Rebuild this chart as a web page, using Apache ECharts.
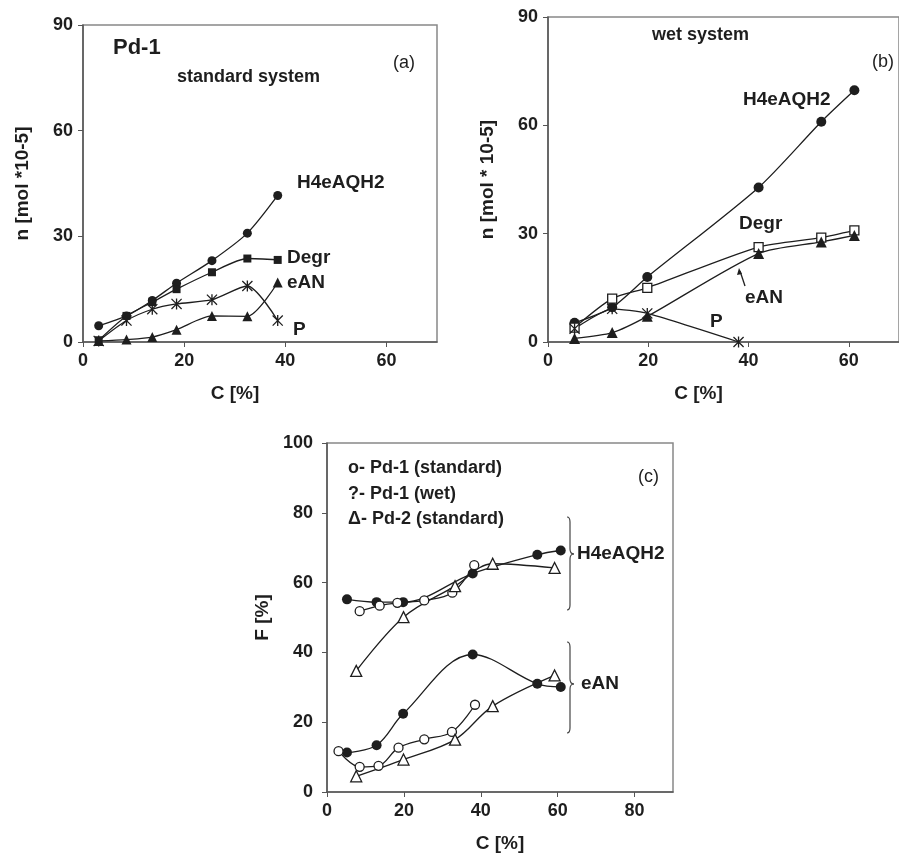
<!DOCTYPE html>
<html>
<head>
<meta charset="utf-8">
<script src="https://cdn.jsdelivr.net/npm/echarts@6/dist/echarts.min.js"></script>
<style>
html,body{margin:0;padding:0;background:#fff;}
#chart{width:899px;height:856px;}
</style>
</head>
<body>
<div id="chart"></div>
<script>
// panel (a) Pd-1 standard system
var aX = [3.1, 8.6, 13.7, 18.5, 25.5, 32.5, 38.5];
var aH4 = [4.6, 7.4, 11.8, 16.7, 23.1, 30.9, 41.6];
var aDegr = [0.5, 7.4, 11.3, 15.0, 19.8, 23.7, 23.3];
var aEAN = [0.3, 0.7, 1.4, 3.5, 7.4, 7.3, 16.9];
var aP = [0.3, 6.1, 9.3, 10.8, 12.0, 15.9, 6.1];

// panel (b) wet system
var bX = [5.3, 12.8, 19.8, 42, 54.5, 61.1];
var bH4 = [5.3, 9.6, 18, 42.8, 61, 69.7];
var bDegr = [4.0, 12, 15, 26.3, 28.9, 30.9];
var bEAN = [1.0, 2.6, 7.1, 24.5, 27.7, 29.5];
var bPX = [5.3, 12.8, 19.8, 38];
var bP = [3.7, 9.2, 7.9, 0];

// panel (c) F [%]
var cWetX = [5.2, 12.9, 19.8, 37.9, 54.7, 60.8];
var cWetH4 = [55.2, 54.4, 54.4, 62.6, 68, 69.2];
var cWetEAN = [11.3, 13.4, 22.4, 39.4, 31, 30.1];
var cStdH4X = [8.5, 13.7, 18.3, 25.3, 32.6, 38.3];
var cStdH4 = [51.8, 53.4, 54.2, 54.9, 57.1, 65];
var cStdEANX = [3.0, 8.5, 13.4, 18.6, 25.3, 32.5, 38.5];
var cStdEAN = [11.7, 7.2, 7.5, 12.7, 15.1, 17.2, 25];
var cPd2X = [7.6, 19.9, 33.3, 43.1, 59.2];
var cPd2H4 = [34.7, 50.1, 59, 65.4, 64.2];
var cPd2EAN = [4.5, 9.3, 15, 24.6, 33.4];

var ticksN = [0, 30, 60, 90];
var ticksC = [0, 20, 40, 60, 80];
var ticksF = [0, 20, 40, 60, 80, 100];

var ink = '#1e1e1e';
var font = 'Liberation Sans';
var star = 'path://M4.4 0h1.2v10h-1.2z M0.8 0 L10 9.2 L9.2 10 L0 0.8z M9.2 0 L10 0.8 L0.8 10 L0 9.2z';

function pairs(xs, ys){
    var out = [];
    for(var i=0;i<xs.length;i++){ out.push([xs[i], ys[i]]); }
    return out;
}

function mk(name, idx, xs, ys, symbol, size, open, smooth){
    return {
        name: name, type: 'line', xAxisIndex: idx, yAxisIndex: idx,
        data: pairs(xs, ys), symbol: symbol, symbolSize: size,
        smooth: smooth, showSymbol: true, animation: false,
        lineStyle: {color: ink, width: 1.3},
        itemStyle: open ? {color: '#fff', borderColor: ink, borderWidth: 1.3} : {color: ink, borderWidth: 0}
    };
}

function xAx(idx, max, nm, pad){
    return {
        gridIndex: idx, type: 'value', min: 0, max: max, interval: 20,
        name: nm, nameLocation: 'middle', nameGap: 42,
        nameTextStyle: {fontFamily: font, fontWeight: 'bold', fontSize: 19, color: ink, padding: pad},
        axisLine: {lineStyle: {color: '#555', width: 1.5}},
        axisTick: {length: 5, lineStyle: {color: '#555'}},
        axisLabel: {showMaxLabel: false, margin: 10, fontFamily: font, fontWeight: 'bold', fontSize: 18, color: ink,
            formatter: function(v){ return ticksC.indexOf(v) >= 0 ? String(v) : ''; }},
        splitLine: {show: false}
    };
}

function yAx(idx, max, step, ticks, nm, gap, margin){
    return {
        gridIndex: idx, type: 'value', min: 0, max: max, interval: step,
        name: nm, nameLocation: 'middle', nameGap: gap, nameRotate: 90,
        nameTextStyle: {fontFamily: font, fontWeight: 'bold', fontSize: 19, color: ink},
        axisLine: {lineStyle: {color: '#555', width: 1.5}},
        axisTick: {length: 5, lineStyle: {color: '#555'}},
        axisLabel: {margin: margin, fontFamily: font, fontWeight: 'bold', fontSize: 18, color: ink,
            formatter: function(v){ return ticks.indexOf(v) >= 0 ? String(v) : ''; }},
        splitLine: {show: false}
    };
}

function txt(x, y, s, size, bold){
    return {type: 'text', x: x, y: y, silent: true,
        style: {text: s, fill: ink, font: (bold ? 'bold ' : '') + size + 'px "' + font + '"', textVerticalAlign: 'middle'}};
}

// curly brace built from curves and lines
function brace(x, y0, ym, y1){
    var st = {stroke: '#444', lineWidth: 1.2, fill: null};
    var s = x + 3;
    return [
        {type: 'bezierCurve', silent: true, shape: {x1: x, y1: y0, x2: s, y2: y0 + 5, cpx1: s, cpy1: y0}, style: st},
        {type: 'line', silent: true, shape: {x1: s, y1: y0 + 5, x2: s, y2: ym - 5}, style: st},
        {type: 'bezierCurve', silent: true, shape: {x1: s, y1: ym - 5, x2: x + 7, y2: ym, cpx1: s, cpy1: ym}, style: st},
        {type: 'bezierCurve', silent: true, shape: {x1: x + 7, y1: ym, x2: s, y2: ym + 5, cpx1: s, cpy1: ym}, style: st},
        {type: 'line', silent: true, shape: {x1: s, y1: ym + 5, x2: s, y2: y1 - 5}, style: st},
        {type: 'bezierCurve', silent: true, shape: {x1: s, y1: y1 - 5, x2: x, y2: y1, cpx1: s, cpy1: y1}, style: st}
    ];
}

var chart = echarts.init(document.getElementById('chart'));
var option = {
    backgroundColor: '#fff',
    animation: false,
    grid: [
        {left: 83, top: 25, width: 354, height: 317, show: true, borderColor: '#888', borderWidth: 1.5},
        {left: 548, top: 17, width: 358, height: 325, show: true, borderColor: '#888', borderWidth: 1.5},
        {left: 327, top: 443, width: 346, height: 349, show: true, borderColor: '#888', borderWidth: 1.5}
    ],
    xAxis: [xAx(0, 70, 'C [%]', [0, 50, 0, 0]), xAx(1, 70, 'C [%]', [0, 50, 0, 0]), xAx(2, 90, 'C [%]', [0, 0, 0, 0])],
    yAxis: [yAx(0, 90, 30, ticksN, 'n [mol *10-5]', 51, 10), yAx(1, 90, 30, ticksN, 'n [mol * 10-5]', 51, 10), yAx(2, 100, 20, ticksF, 'F [%]', 55, 14)],
    series: [
        mk('H4eAQH2 a', 0, aX, aH4, 'circle', 9, false, 0.25),
        mk('Degr a', 0, aX, aDegr, 'rect', 8, false, 0.25),
        mk('eAN a', 0, aX, aEAN, 'triangle', 10, false, 0.25),
        mk('P a', 0, aX, aP, star, 11, false, 0.25),
        mk('H4eAQH2 b', 1, bX, bH4, 'circle', 10, false, 0.25),
        mk('Degr b', 1, bX, bDegr, 'rect', 9, true, 0.25),
        mk('eAN b', 1, bX, bEAN, 'triangle', 11, false, 0.25),
        mk('P b', 1, bPX, bP, star, 11, false, 0.2),
        mk('wet H4', 2, cWetX, cWetH4, 'circle', 10, false, 0.35),
        mk('wet eAN', 2, cWetX, cWetEAN, 'circle', 10, false, 0.35),
        mk('std H4', 2, cStdH4X, cStdH4, 'circle', 9, true, 0.35),
        mk('std eAN', 2, cStdEANX, cStdEAN, 'circle', 9, true, 0.35),
        mk('Pd2 H4', 2, cPd2X, cPd2H4, 'triangle', 11, true, 0.35),
        mk('Pd2 eAN', 2, cPd2X, cPd2EAN, 'triangle', 11, true, 0.35)
    ],
    graphic: [
        txt(113, 48, 'Pd-1', 22, true),
        txt(177, 77, 'standard system', 18, true),
        txt(393, 63, '(a)', 18, false),
        txt(297, 183, 'H4eAQH2', 19, true),
        txt(287, 258, 'Degr', 19, true),
        txt(287, 283, 'eAN', 19, true),
        txt(293, 330, 'P', 19, true),
        txt(652, 35, 'wet system', 18, true),
        txt(872, 62, '(b)', 18, false),
        txt(743, 100, 'H4eAQH2', 19, true),
        txt(739, 224, 'Degr', 19, true),
        txt(745, 298, 'eAN', 19, true),
        txt(710, 322, 'P', 19, true),
        {type: 'line', silent: true, shape: {x1: 745, y1: 286, x2: 740, y2: 271}, style: {stroke: ink, lineWidth: 1.3}},
        {type: 'polygon', silent: true, shape: {points: [[739, 268], [737, 275], [742, 274]]}, style: {fill: ink}},
        txt(348, 468, 'o- Pd-1 (standard)', 18, true),
        txt(348, 494, '?- Pd-1 (wet)', 18, true),
        txt(348, 519, '\u0394- Pd-2 (standard)', 18, true),
        txt(638, 477, '(c)', 18, false),
        txt(577, 554, 'H4eAQH2', 19, true),
        txt(581, 684, 'eAN', 19, true)
    ].concat(brace(567, 517, 554, 610), brace(567, 642, 684, 733))
};
chart.setOption(option);
</script>
</body>
</html>
